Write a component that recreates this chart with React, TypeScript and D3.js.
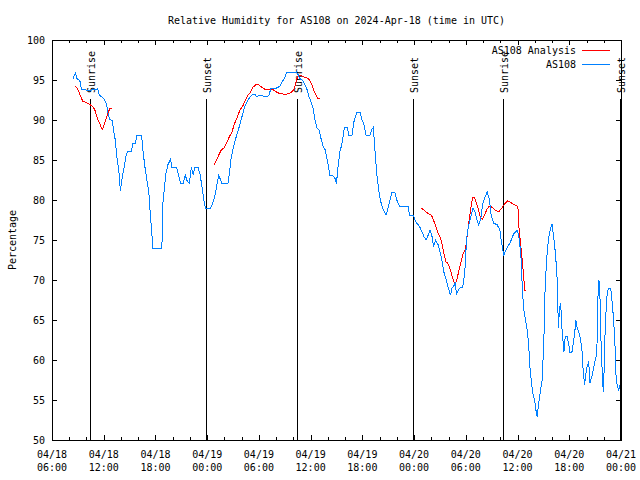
import * as d3 from "d3";
import { useEffect, useRef } from "react";

// time origin of the x axis: 04/18 06:00 UTC, times below are hours after it
const START = Date.UTC(2024, 3, 18, 6, 0);
const END = Date.UTC(2024, 3, 21, 0, 0);

const title = "Relative Humidity for AS108 on 2024-Apr-18 (time in UTC)";
const yLabel = "Percentage";
const yTicks = [50, 55, 60, 65, 70, 75, 80, 85, 90, 95, 100];

// observed station humidity [hour, %]
const as108: [number, number][] = [
  [2.41, 95.1], [2.73, 95.9], [2.88, 95.2], [3.11, 95.0], [3.27, 94.8], [3.42, 93.8],
  [3.97, 93.75], [4.55, 93.75], [5.13, 93.8], [5.32, 93.9], [5.43, 93.3], [5.6, 93.0],
  [5.9, 92.8], [6.21, 92.3], [6.36, 91.7], [6.52, 90.8], [6.68, 90.1], [6.99, 89.9],
  [7.14, 88.75], [7.34, 87.5], [7.52, 85.4], [7.69, 84.2], [7.84, 82.7], [7.92, 81.1],
  [8.07, 82.3], [8.22, 83.3], [8.45, 84.6], [8.61, 85.6], [8.76, 86.1], [9.23, 86.1],
  [9.38, 87.1], [9.69, 87.1], [9.84, 88.1], [10.39, 88.1], [10.54, 86.25], [10.77, 84.2],
  [11.01, 82.5], [11.24, 80.8], [11.4, 78.3], [11.55, 76.25], [11.7, 74.0], [12.75, 74.0],
  [12.83, 79.2], [13.06, 81.7], [13.21, 83.3], [13.44, 84.4], [13.76, 85.1], [13.91, 84.1],
  [14.45, 84.1], [14.69, 83.1], [14.92, 82.1], [15.23, 82.1], [15.46, 83.1], [15.7, 82.3],
  [15.93, 82.1], [16.16, 84.1], [16.39, 83.1], [16.54, 84.1], [16.93, 84.1], [17.16, 83.3],
  [17.39, 81.7], [17.62, 80.0], [17.78, 79.0], [18.4, 79.0], [18.63, 79.6], [18.86, 80.4],
  [19.1, 81.7], [19.33, 83.1], [19.48, 82.7], [19.71, 82.1], [20.41, 82.1], [20.57, 83.3],
  [20.8, 85.4], [21.11, 86.9], [21.42, 88.1], [21.73, 89.2], [22.03, 90.4], [22.35, 91.7],
  [22.73, 92.5], [23.13, 93.1], [23.51, 93.25], [23.71, 92.9], [24.09, 93.1], [24.47, 93.0],
  [24.87, 92.9], [25.17, 93.1], [25.4, 94.0], [26.03, 94.0], [26.41, 94.2], [26.72, 94.8],
  [27.03, 95.4], [27.26, 96.0], [27.65, 95.9], [28.04, 95.9], [28.35, 96.0], [28.58, 95.6],
  [28.73, 95.2], [29.12, 94.9], [29.35, 94.4], [29.58, 93.8], [29.81, 92.9], [30.04, 92.3],
  [30.28, 91.5], [30.51, 90.0], [30.74, 89.0], [30.97, 88.75], [31.2, 87.7], [31.44, 86.7],
  [31.67, 86.3], [31.83, 85.6], [32.06, 84.2], [32.22, 83.1], [32.6, 83.0], [32.83, 82.7],
  [32.99, 82.0], [33.14, 83.75], [33.38, 86.0], [33.61, 86.9], [33.92, 89.1], [34.27, 89.1],
  [34.42, 88.1], [34.8, 88.1], [35.03, 89.8], [35.35, 91.0], [35.73, 91.0], [35.96, 90.0],
  [36.2, 89.4], [36.43, 88.1], [36.89, 88.1], [37.06, 88.75], [37.29, 89.1], [37.36, 87.7],
  [37.52, 85.4], [37.67, 83.3], [37.82, 81.9], [37.98, 80.6], [38.22, 79.4], [38.45, 78.75],
  [38.75, 78.1], [38.98, 79.0], [39.21, 80.0], [39.45, 81.0], [39.76, 81.0], [39.99, 80.0],
  [40.31, 79.2], [41.3, 79.2], [41.47, 78.1], [41.93, 78.1], [42.08, 77.5], [42.31, 77.1],
  [42.63, 76.7], [42.93, 76.0], [43.16, 75.4], [43.39, 75.0], [43.63, 75.6], [43.86, 76.25],
  [44.09, 75.4], [44.25, 74.2], [44.49, 75.0], [44.79, 74.4], [45.18, 72.8], [45.45, 71.0],
  [45.68, 70.2], [45.91, 69.2], [46.23, 68.1], [46.38, 69.0], [46.61, 69.25], [46.76, 69.7],
  [46.92, 68.3], [47.15, 68.75], [47.39, 69.1], [47.62, 69.1], [47.77, 70.0], [47.92, 71.7],
  [48.08, 75.0], [48.24, 76.25], [48.39, 77.1], [48.62, 78.1], [48.85, 79.0], [49.08, 78.5],
  [49.25, 77.7], [49.48, 76.9], [49.71, 77.5], [49.94, 79.4], [50.24, 80.4], [50.48, 81.0],
  [50.71, 80.2], [50.94, 78.1], [51.25, 77.1], [51.64, 76.9], [51.95, 76.25], [52.1, 75.0],
  [52.26, 74.0], [52.41, 73.1], [52.65, 73.75], [52.88, 74.2], [53.11, 74.6], [53.34, 75.2],
  [53.57, 75.8], [53.96, 76.2], [54.12, 75.6], [54.27, 74.4], [54.42, 72.5], [54.58, 68.3],
  [54.74, 66.25], [54.89, 65.2], [55.12, 63.75], [55.28, 62.1], [55.43, 59.2], [55.58, 57.5],
  [55.74, 56.0], [55.98, 55.0], [56.13, 53.75], [56.28, 52.9], [56.44, 54.5], [56.57, 55.5],
  [56.73, 56.7], [56.89, 57.7], [56.96, 60.2], [57.12, 64.6], [57.19, 68.75], [57.37, 72.5],
  [57.52, 74.4], [57.67, 75.6], [57.83, 76.5], [57.99, 77.0], [58.14, 75.8], [58.3, 74.4],
  [58.45, 72.5], [58.6, 70.0], [58.69, 66.0], [58.77, 64.0], [58.84, 66.25], [59.0, 67.1],
  [59.15, 64.0], [59.3, 62.1], [59.38, 61.0], [59.53, 62.9], [59.76, 62.9], [59.92, 62.1],
  [60.07, 61.0], [60.31, 61.0], [60.46, 62.1], [60.62, 63.3], [60.77, 65.0], [60.92, 64.0],
  [61.09, 63.5], [61.32, 62.5], [61.47, 61.25], [61.55, 59.6], [61.7, 57.7], [61.78, 56.9],
  [61.93, 58.3], [62.08, 59.2], [62.25, 59.8], [62.4, 57.1], [62.55, 57.7], [62.71, 58.3],
  [62.86, 59.2], [63.01, 60.0], [63.18, 60.6], [63.25, 63.3], [63.32, 67.7], [63.44, 70.0],
  [63.56, 67.9], [63.64, 64.6], [63.71, 60.8], [63.87, 57.7], [63.94, 56.0], [64.02, 57.9],
  [64.1, 61.9], [64.26, 66.0], [64.41, 68.5], [64.57, 69.0], [64.8, 69.0], [64.95, 67.5],
  [65.1, 65.6], [65.27, 62.9], [65.42, 58.1], [65.57, 56.7], [65.73, 56.25], [65.88, 56.9],
];

// analysis humidity, three separate runs [hour, %]
const analysisRun1: [number, number][] = [
  [2.73, 94.25], [3.04, 93.75], [3.27, 93.1], [3.58, 92.3], [3.97, 92.2], [4.43, 91.9],
  [4.74, 91.7], [4.97, 91.25], [5.2, 90.4], [5.43, 89.8], [5.67, 89.2], [5.83, 88.8],
  [6.06, 89.4], [6.29, 90.2], [6.52, 91.0], [6.76, 91.5], [6.99, 91.5],
];
const analysisRun2: [number, number][] = [
  [18.78, 84.3], [19.1, 85.0], [19.33, 85.6], [19.64, 86.25], [19.94, 86.5], [20.26, 87.1],
  [20.57, 87.9], [20.87, 88.5], [21.19, 89.6], [21.5, 90.4], [21.8, 91.25], [22.11, 91.7],
  [22.43, 92.5], [22.73, 93.1], [23.04, 93.5], [23.31, 94.1], [23.77, 94.5], [24.09, 94.3],
  [24.47, 94.0], [24.78, 93.8], [25.63, 93.8], [26.03, 93.5], [26.41, 93.3], [26.79, 93.25],
  [27.26, 93.25], [27.65, 93.4], [28.04, 93.75], [28.27, 94.6], [28.5, 95.5], [28.81, 95.6],
  [29.2, 95.4], [29.74, 95.2], [29.97, 94.8], [30.21, 94.2], [30.44, 93.5], [30.67, 93.0],
  [30.82, 92.7], [31.05, 92.7],
];
const analysisRun3: [number, number][] = [
  [42.78, 79.0], [43.09, 78.8], [43.39, 78.5], [43.71, 78.25], [44.02, 78.1], [44.25, 77.5],
  [44.49, 76.75], [44.72, 76.0], [44.98, 75.5], [45.22, 74.6], [45.45, 73.4], [45.68, 72.3],
  [45.91, 72.1], [46.14, 71.5], [46.38, 70.6], [46.61, 69.8], [46.76, 69.4], [46.99, 70.2],
  [47.22, 71.25], [47.46, 72.3], [47.69, 73.3], [47.92, 73.75], [48.08, 74.8], [48.24, 76.25],
  [48.39, 77.5], [48.62, 79.2], [48.78, 80.3], [49.01, 80.3], [49.25, 79.6], [49.48, 78.75],
  [49.71, 77.7], [49.94, 77.6], [50.17, 78.1], [50.41, 78.75], [50.71, 79.25], [51.02, 79.1],
  [51.33, 78.8], [51.64, 78.6], [51.87, 78.6], [52.18, 79.0], [52.49, 79.5], [52.88, 79.9],
  [53.19, 79.7], [53.49, 79.5], [53.8, 79.3], [54.04, 79.2], [54.12, 77.1], [54.27, 75.4],
  [54.42, 73.75], [54.58, 72.1], [54.74, 70.0], [54.82, 68.75], [54.97, 68.75],
];

const sunriseHours = [4.4, 28.42, 52.35];
const sunsetHours = [17.87, 41.88, 65.9];

const legendNames = ["AS108 Analysis", "AS108"];
const seriesColors = ["#ff0000", "#0080ff"];

const toDate = (h: number) => new Date(START + h * 3600 * 1000);

const App = () => {
  const svgRef = useRef<SVGSVGElement | null>(null);

  useEffect(() => {
    const svg = d3.select(svgRef.current);
    svg.selectAll("*").remove();

    const width = 640;
    const height = 480;
    const margin = { top: 40, right: 19, bottom: 40, left: 52 };
    const font = "'DejaVu Sans Mono', monospace";

    const x = d3
      .scaleUtc()
      .domain([new Date(START), new Date(END)])
      .range([margin.left, width - margin.right]);
    const y = d3
      .scaleLinear()
      .domain([50, 100])
      .range([height - margin.bottom, margin.top]);

    const px = (d: Date) => Math.round(x(d)) + 0.5;
    const py = (v: number) => Math.round(y(v)) + 0.5;
    const [x0, x1] = x.range();
    const [y0, y1] = y.range(); // y0 bottom, y1 top

    svg.append("rect").attr("width", width).attr("height", height).attr("fill", "white");

    // title
    svg
      .append("text")
      .attr("x", (x0 + x1) / 2)
      .attr("y", 20)
      .attr("dy", "0.35em")
      .attr("text-anchor", "middle")
      .attr("font-family", font)
      .attr("font-size", 10)
      .text(title);

    // y label
    svg
      .append("text")
      .attr("transform", `translate(12,240) rotate(-90)`)
      .attr("dy", "0.35em")
      .attr("text-anchor", "middle")
      .attr("font-family", font)
      .attr("font-size", 10)
      .text(yLabel);

    const axes = svg
      .append("g")
      .attr("stroke", "black")
      .attr("stroke-width", 1)
      .attr("shape-rendering", "crispEdges");

    // y ticks both sides
    yTicks.forEach((t) => {
      axes.append("line").attr("x1", x0).attr("x2", x0 + 5).attr("y1", py(t)).attr("y2", py(t));
      axes.append("line").attr("x1", x1 - 5).attr("x2", x1).attr("y1", py(t)).attr("y2", py(t));
    });
    svg
      .append("g")
      .selectAll("text")
      .data(yTicks)
      .join("text")
      .attr("x", x0 - 7)
      .attr("y", (d) => y(d))
      .attr("dy", "0.35em")
      .attr("text-anchor", "end")
      .attr("font-family", font)
      .attr("font-size", 10)
      .text((d) => d);

    // x ticks: minor every 2h, major every 6h
    const minor = d3.utcHour.every(2)!.range(new Date(START), new Date(END + 1));
    const major = d3.utcHour.every(6)!.range(new Date(START), new Date(END + 1));
    minor.forEach((d) => {
      const len = d.getUTCHours() % 6 === 0 ? 5 : 3;
      axes.append("line").attr("x1", px(d)).attr("x2", px(d)).attr("y1", y0).attr("y2", y0 - len);
      axes.append("line").attr("x1", px(d)).attr("x2", px(d)).attr("y1", y1).attr("y2", y1 + len);
    });
    const fmtDay = d3.utcFormat("%m/%d");
    const fmtTime = d3.utcFormat("%H:%M");
    const xl = svg
      .append("g")
      .attr("font-family", font)
      .attr("font-size", 10)
      .attr("text-anchor", "middle");
    major.forEach((d) => {
      xl.append("text").attr("x", x(d)).attr("y", 454).attr("dy", "0.35em").text(fmtDay(d));
      xl.append("text").attr("x", x(d)).attr("y", 467).attr("dy", "0.35em").text(fmtTime(d));
    });

    // border
    svg
      .append("rect")
      .attr("x", x0 + 0.5)
      .attr("y", y1 + 0.5)
      .attr("width", Math.round(x1 - x0))
      .attr("height", y0 - y1)
      .attr("fill", "none")
      .attr("stroke", "black")
      .attr("shape-rendering", "crispEdges");

    // sunrise / sunset markers
    const markers = [
      ...sunriseHours.map((h) => ({ h, label: "Sunrise" })),
      ...sunsetHours.map((h) => ({ h, label: "Sunset" })),
    ];
    markers.forEach((m) => {
      const mx = px(toDate(m.h));
      svg
        .append("line")
        .attr("x1", mx)
        .attr("x2", mx)
        .attr("y1", 99)
        .attr("y2", y0)
        .attr("stroke", "black")
        .attr("shape-rendering", "crispEdges");
      svg
        .append("text")
        .attr("transform", `translate(${mx + 4},93) rotate(-90)`)
        .attr("text-anchor", "start")
        .attr("font-family", font)
        .attr("font-size", 10)
        .text(m.label);
    });

    // series
    const line = d3
      .line<[number, number]>()
      .x((d) => x(toDate(d[0])))
      .y((d) => y(d[1]));

    [analysisRun1, analysisRun2, analysisRun3].forEach((run) => {
      svg
        .append("path")
        .datum(run)
        .attr("fill", "none")
        .attr("stroke", seriesColors[0])
        .attr("stroke-width", 1)
        .attr("shape-rendering", "crispEdges")
        .attr("d", line);
    });
    svg
      .append("path")
      .datum(as108)
      .attr("fill", "none")
      .attr("stroke", seriesColors[1])
      .attr("stroke-width", 1)
      .attr("shape-rendering", "crispEdges")
      .attr("d", line);

    // legend
    legendNames.forEach((name, i) => {
      const ly = 50 + i * 14;
      svg
        .append("text")
        .attr("x", 576)
        .attr("y", ly)
        .attr("dy", "0.35em")
        .attr("text-anchor", "end")
        .attr("font-family", font)
        .attr("font-size", 10)
        .text(name);
      svg
        .append("line")
        .attr("x1", 582)
        .attr("x2", 610)
        .attr("y1", ly + 0.5)
        .attr("y2", ly + 0.5)
        .attr("stroke", seriesColors[i])
        .attr("shape-rendering", "crispEdges");
    });
  }, []);

  return (
    <div style={{ position: "absolute", left: 0, top: 0 }}>
      <svg ref={svgRef} width={640} height={480} style={{ display: "block" }}></svg>
    </div>
  );
};

export default App;
